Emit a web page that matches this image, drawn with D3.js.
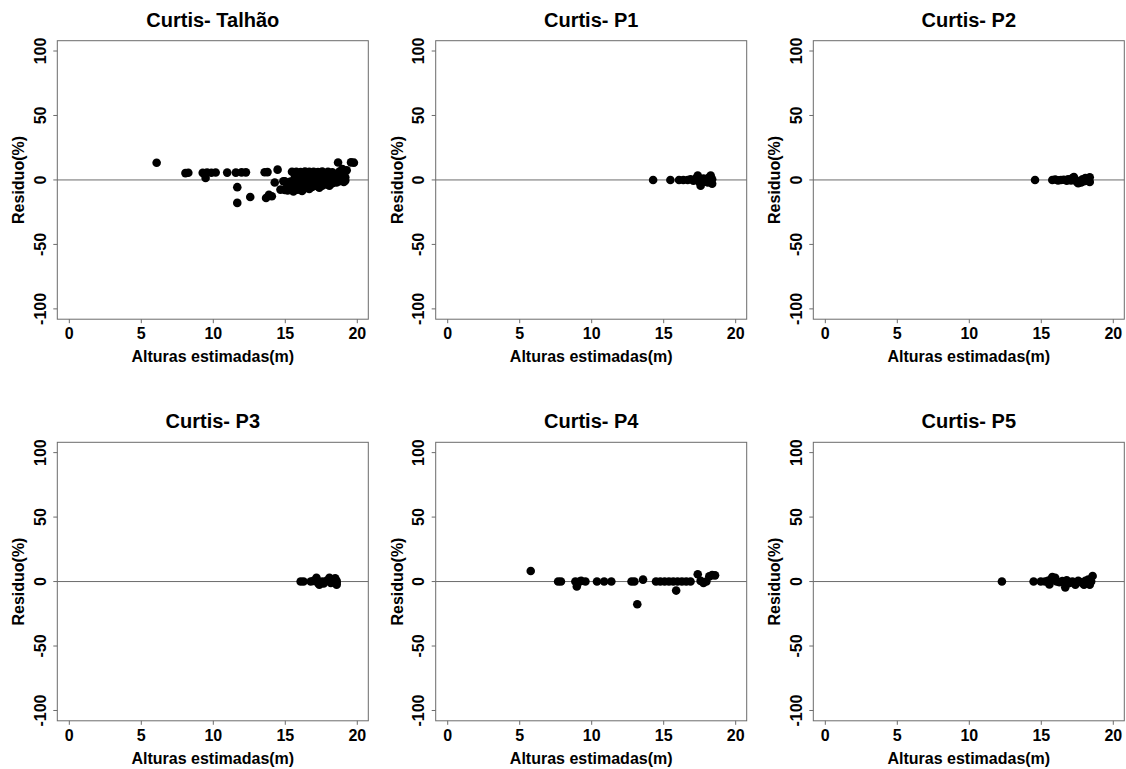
<!DOCTYPE html>
<html>
<head>
<meta charset="utf-8">
<script src="https://cdn.jsdelivr.net/npm/d3@7"></script>
<style>
  body { margin: 0; background: #fff; }
  svg text { font-family: "Liberation Sans", Arial, sans-serif; font-weight: bold; fill: #000; }
</style>
</head>
<body>
<div id="main"></div>
<script>
// residuals (%) vs estimated heights (m), one array per panel
const talhao = [
  [6.1, 13.3], [8.1, 5.3], [8.3, 5.6], [9.3, 5.5], [9.5, 1.5], [9.6, 5.8], [9.9, 5.6], [10.2, 5.8],
  [11.0, 5.7], [11.6, 5.7], [11.7, -5.6], [11.7, -17.8], [12.0, 5.9], [12.3, 5.9], [12.6, -13.2],
  [13.6, 6.0], [13.8, 6.1], [13.7, -14.0], [13.9, -11.5], [14.1, -12.6], [14.3, -2.0], [14.5, 8.0],
  [14.7, -7.5], [15.0, -7.8], [15.0, -1.0], [15.2, -8.2], [15.3, -4.5], [15.4, -1.2], [15.5, 6.3],
  [15.5, -6.0], [15.6, -9.0], [15.7, 2.0], [15.8, -3.0], [15.8, 6.4], [15.9, -7.5], [16.0, -5.5],
  [16.0, 0.5], [16.1, 6.2], [16.2, -2.0], [16.2, -8.5], [16.3, 3.0], [16.4, -6.5], [16.4, 6.5],
  [16.5, -1.0], [16.6, -4.0], [16.6, 1.5], [16.7, -7.0], [16.7, 6.3], [16.8, -2.5], [16.9, 3.5],
  [16.9, -5.5], [17.0, 0.0], [17.0, 6.4], [17.1, -3.5], [17.2, -1.0], [17.2, 4.0], [17.3, -5.0],
  [17.3, 6.2], [17.4, 1.0], [17.5, -2.5], [17.5, 3.0], [17.6, -4.5], [17.6, 6.5], [17.7, 0.5],
  [17.8, -1.5], [17.8, 4.5], [17.9, -3.5], [18.0, 6.4], [18.0, 1.5], [18.1, -4.5], [18.1, -0.5],
  [18.2, 3.5], [18.3, -2.5], [18.3, 6.0], [18.4, 1.0], [18.5, -1.5], [18.5, 4.0], [18.6, -2.0],
  [18.7, 13.5], [18.7, 2.0], [18.8, 6.5], [18.8, -1.0], [18.9, 3.5], [19.0, 0.5], [19.0, 8.5],
  [19.1, -1.5], [19.1, 5.5], [19.2, 2.0], [19.3, 7.5], [19.2, -0.5], [19.6, 13.6], [19.8, 13.4],
  [15.1, -6.5], [15.6, -3.2], [16.3, -6.8], [17.0, -4.2], [17.8, -2.8], [16.5, 4.5], [15.9, -0.5],
  [18.2, -3.0], [17.4, -6.0], [16.1, -3.8], [15.3, -2.5], [14.9, -1.0]
];
const p1 = [
  [14.3, 0], [15.5, 0], [16.1, 0], [16.4, 0], [16.7, 0], [16.9, 0.5], [17.1, -0.5], [17.3, 1.5],
  [17.4, 3.5], [17.5, -1.5], [17.6, -4.5], [17.7, -2], [17.8, 1], [17.9, -1], [18.0, 0.5],
  [18.1, -2], [18.2, 2], [18.3, 3.5], [18.3, -1], [18.4, 0.5], [18.4, -3]
];
const p2 = [
  [14.6, 0], [15.8, 0], [16.0, 0.3], [16.2, -0.3], [16.4, 0], [16.6, 0.2], [16.8, -0.5], [16.9, 0.5],
  [17.1, -0.3], [17.2, 1.5], [17.3, 2.3], [17.4, 0], [17.5, -1.5], [17.6, -2.5], [17.7, -0.8],
  [17.8, -2], [17.9, 0.5], [18.0, -1.0], [18.1, 1.5], [18.2, -0.5], [18.3, 1.0], [18.4, -1.5], [18.4, 2.0]
];
const p3 = [
  [16.1, 0], [16.3, 0], [16.8, 0], [17.0, 0.5], [17.2, 3.0], [17.3, -1], [17.4, -2.5], [17.6, 0],
  [17.7, -1.5], [17.9, 0.5], [18.1, 3.0], [18.2, -1], [18.3, 0.5], [18.5, 2.5], [18.6, -2.5],
  [18.6, 0.5], [18.6, -1]
];
const p4 = [
  [5.8, 8.2], [7.7, 0], [7.9, 0], [8.9, 0], [9.0, -3.8], [9.2, 0], [9.3, 0.5], [9.6, 0], [10.4, 0],
  [10.9, 0], [11.4, 0], [12.8, 0], [13.0, 0], [13.2, -17.6], [13.6, 1.5], [14.5, 0], [14.8, 0],
  [15.1, 0], [15.4, 0], [15.7, 0], [15.9, -7], [16.0, 0], [16.3, 0], [16.6, 0], [16.9, 0],
  [17.4, 5.6], [17.6, 0.5], [17.8, -1], [18.0, 0], [18.2, 4], [18.4, 5], [18.6, 4.8]
];
const p5 = [
  [12.3, 0], [14.5, 0], [15.0, 0], [15.3, 0], [15.5, 0.5], [15.6, -2.3], [15.7, 1.5], [15.8, 3.5],
  [16.0, 3], [16.1, 0], [16.3, -0.5], [16.5, 0.3], [16.7, -4.5], [16.8, 1], [17.0, -1], [17.2, 0],
  [17.4, -2.5], [17.6, 0.5], [17.8, -0.5], [18.0, -2.5], [18.1, 0.5], [18.3, 1.5], [18.4, -2.5],
  [18.5, 0], [18.6, 4.3]
];

const titles = ['Curtis- Talhão', 'Curtis- P1', 'Curtis- P2', 'Curtis- P3', 'Curtis- P4', 'Curtis- P5'];
const series = [talhao, p1, p2, p3, p4, p5];
const xTicks = [0, 5, 10, 15, 20];
const yTicks = [-100, -50, 0, 50, 100];
const xLabel = 'Alturas estimadas(m)';
const yLabel = 'Residuo(%)';

const W = 1126, H = 769;
const colLeft = [57.3, 435.7, 813.3];
const rowTop = [40.7, 442.3];
const boxW = 311, boxH = 278.5;
const lineCol = '#6b6b6b';

const svg = d3.select('#main').append('svg')
  .attr('width', W)
  .attr('height', H);

series.forEach((pts, i) => {
  const left = colLeft[i % 3];
  const top = rowTop[Math.floor(i / 3)];
  const g = svg.append('g').attr('transform', `translate(${left},${top})`);

  // R style: 4% padding around c(0,20) and c(-100,100)
  const x = d3.scaleLinear().domain([-0.8, 20.8]).range([0, boxW]);
  const y = d3.scaleLinear().domain([-108, 108]).range([boxH, 0]);

  g.append('rect')
    .attr('width', boxW).attr('height', boxH)
    .attr('fill', 'none')
    .attr('stroke', lineCol)
    .attr('stroke-width', 1);

  const xAxis = g.append('g')
    .attr('transform', `translate(0,${boxH})`)
    .call(d3.axisBottom(x).tickValues(xTicks).tickSize(4).tickFormat(d => String(d)));
  xAxis.select('.domain').remove();
  xAxis.selectAll('line').attr('stroke', lineCol);
  xAxis.selectAll('text')
    .attr('font-size', 16).attr('fill', '#000')
    .attr('y', 20).attr('dy', null);

  const yAxis = g.append('g')
    .call(d3.axisLeft(y).tickValues(yTicks).tickSize(4).tickFormat(d => String(d)));
  yAxis.select('.domain').remove();
  yAxis.selectAll('line').attr('stroke', lineCol);
  yAxis.selectAll('text')
    .attr('font-size', 16).attr('fill', '#000')
    .attr('x', null).attr('dy', null)
    .attr('text-anchor', 'middle')
    .attr('transform', d => `translate(-11.5,${y(d)}) rotate(-90)`)
    .attr('y', 0);
  yAxis.selectAll('.tick').attr('transform', null);
  yAxis.selectAll('.tick line').attr('y1', d => y(d)).attr('y2', d => y(d));

  // zero reference line
  g.append('line')
    .attr('x1', 0).attr('x2', boxW)
    .attr('y1', y(0)).attr('y2', y(0))
    .attr('stroke', lineCol)
    .attr('stroke-width', 1);

  g.selectAll('.pt')
    .data(pts)
    .enter().append('circle')
      .attr('class', 'pt')
      .attr('cx', d => x(d[0]))
      .attr('cy', d => y(d[1]))
      .attr('r', 4.3)
      .attr('fill', '#000');

  g.append('text')
    .attr('x', boxW / 2).attr('y', -14)
    .attr('text-anchor', 'middle')
    .attr('font-size', 20)
    .text(titles[i]);

  g.append('text')
    .attr('x', boxW / 2).attr('y', boxH + 43)
    .attr('text-anchor', 'middle')
    .attr('font-size', 16)
    .text(xLabel);

  g.append('text')
    .attr('transform', `translate(-33,${boxH / 2}) rotate(-90)`)
    .attr('text-anchor', 'middle')
    .attr('font-size', 16)
    .text(yLabel);
});
</script>
</body>
</html>
